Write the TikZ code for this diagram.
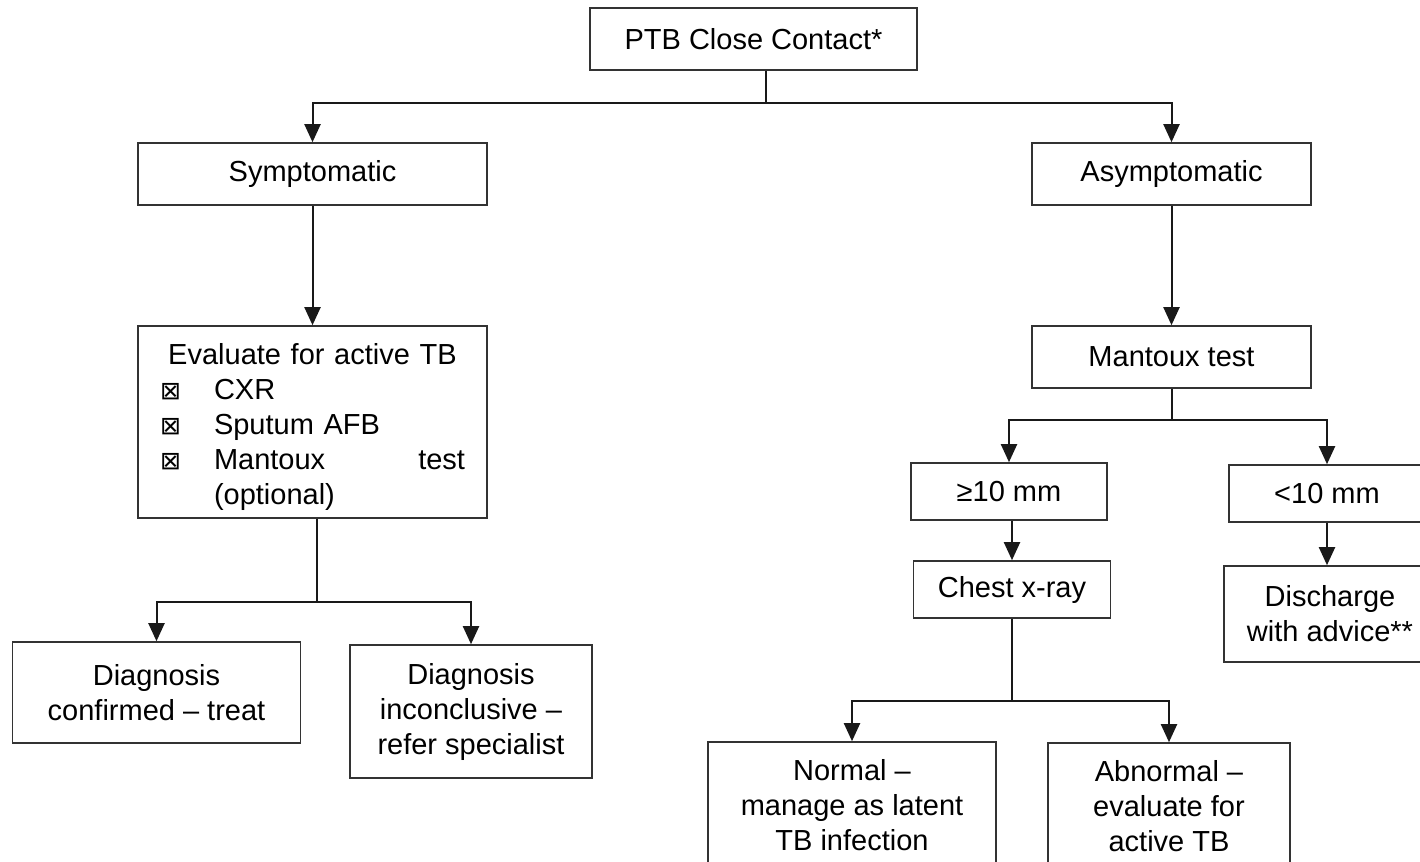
\documentclass[tikz,border=0pt]{standalone}
\usepackage{fontspec}
\setmainfont{Liberation Sans}
\newfontfamily\symfont{DejaVu Sans}
\usetikzlibrary{arrows.meta}
\newcommand{\chk}{\makebox[27pt][l]{\symfont\fontsize{12.5}{12.5}\selectfont ⊠}}
\tikzset{
  box/.style={draw=black!80, line width=0.8pt, align=center, inner sep=2pt,
    font=\fontsize{14.5}{17.5}\selectfont},
  link/.style={draw=black!90, line width=1pt}
}
\begin{document}
\begin{tikzpicture}[x=0.5pt,y=-0.5pt,>={Triangle[length=9pt,width=8pt]}]
\useasboundingbox (0,0) rectangle (1420,862);
% boxes
\node[box,minimum width=163.5pt,minimum height=31pt] (ptb) at (753.5,39) {PTB Close Contact*};
\node[box,minimum width=174.5pt,minimum height=31pt] (sym) at (312.5,174) {Symptomatic};
\node[box,minimum width=139.5pt,minimum height=31pt] (asym) at (1171.5,174) {Asymptomatic};
\node[box,minimum width=174.5pt,minimum height=96pt,text width=152.5pt,align=left] (eval) at (312.5,422)
  {\makebox[\linewidth]{\rule{0pt}{15.5pt}Evaluate for active TB}\\
   \chk CXR\\
   \chk Sputum AFB\\
   \chk Mantoux\hfill test\\
   \hspace*{27pt}(optional)};
\node[box,minimum width=139.5pt,minimum height=31pt] (mant) at (1171.5,357) {Mantoux test};
\node[box,minimum width=98pt,minimum height=28.5pt] (ge) at (1009,491.5) {≥10 mm};
\node[box,minimum width=98pt,minimum height=28.5pt] (lt) at (1327,493.5) {<10 mm};
\node[box,minimum width=98.5pt,minimum height=28.5pt] (cxr) at (1012,589.5) {Chest x-ray};
\node[box,minimum width=106pt,minimum height=48pt] (dis) at (1330,614) {Discharge\\ with advice**};
\node[box,minimum width=144pt,minimum height=50.5pt] (conf) at (156.5,692.5) {Diagnosis\\ confirmed – treat};
\node[box,minimum width=121pt,minimum height=66.5pt] (incl) at (471,711.5) {Diagnosis\\ inconclusive –\\ refer specialist};
\node[box,minimum width=144pt,minimum height=63pt] (norm) at (852,805) {Normal –\\ manage as latent\\ TB infection};
\node[box,minimum width=121pt,minimum height=63pt] (abn) at (1169,806) {Abnormal –\\ evaluate for\\ active TB};
% connectors
\draw[link] (ptb.south) ++(12,0) -- ++(0,32) coordinate (j1);
\foreach \n in {sym,asym}
  \draw[link,->] (j1) -| (\n.north);
\draw[link,->] (sym) -- (eval);
\draw[link,->] (asym) -- (mant);
\draw[link] (eval.south) ++(4.5,0) -- ++(0,83) coordinate (j2);
\foreach \n in {conf,incl}
  \draw[link,->] (j2) -| (\n.north);
\draw[link] (mant.south) -- ++(0,31) coordinate (j3);
\foreach \n in {ge,lt}
  \draw[link,->] (j3) -| (\n.north);
\draw[link,->] (cxr.north |- ge.south) -- (cxr.north);
\draw[link,->] (lt.south) -- (lt.south |- dis.north);
\draw[link] (cxr.south) -- ++(0,82) coordinate (j4);
\foreach \n in {norm,abn}
  \draw[link,->] (j4) -| (\n.north);
\end{tikzpicture}
\end{document}
